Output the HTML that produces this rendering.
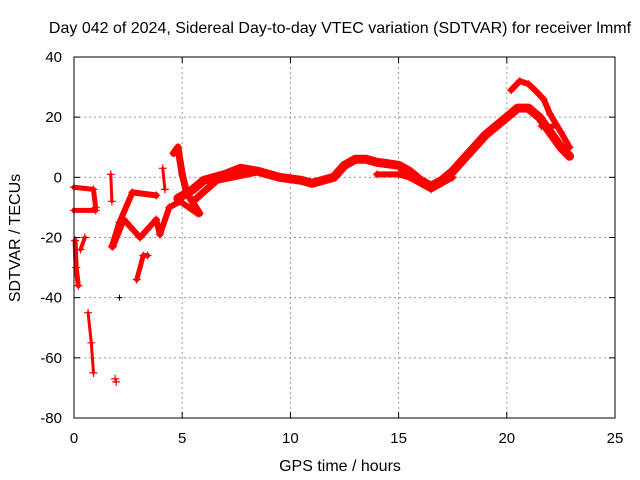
<!DOCTYPE html>
<html><head><meta charset="utf-8"><style>
body{margin:0;background:#fff;}
svg{display:block;font-family:"Liberation Sans",sans-serif;}
</style></head><body>
<svg id="chart" width="640" height="480" viewBox="0 0 640 480" xmlns="http://www.w3.org/2000/svg">
<rect width="640" height="480" fill="#fff"/>
<text x="340" y="33" font-size="16" text-anchor="middle">Day 042 of 2024, Sidereal Day-to-day VTEC variation (SDTVAR) for receiver lmmf</text>
<g id="grid"></g>
<g id="series"></g>
<rect x="74" y="57" width="541" height="361" fill="none" stroke="#000" stroke-width="1"/>
<g id="ticks"></g>
<text x="340" y="471" font-size="16" text-anchor="middle">GPS time / hours</text>
<text x="0" y="0" font-size="16" text-anchor="middle" transform="translate(20,238) rotate(-90)">SDTVAR / TECUs</text>
</svg>
<script>
const xTicks=[0,5,10,15,20,25];
const yTicks=[-80,-60,-40,-20,0,20,40];
// tracks: [hour, value] pairs
const track1=[[4.8,-7],[5.5,-4],[6,-1],[7,1],[7.7,3],[8.5,2],[9.5,0],[10.5,-1],[11,-2],[12,0],[12.5,4],[13,6],[13.5,6],[14,5],[15,4],[15.5,2],[16,-1],[16.5,-3],[17,-1],[17.5,2],[18,6],[18.5,10],[19,14],[19.5,17],[20,20],[20.5,23],[21,23],[21.5,20],[22,15],[22.5,10],[22.9,7]];
const track2=[[14,1],[15,1],[15.5,0],[16.5,-4],[17,-2],[17.5,0]];
const track3=[[20.2,29],[20.6,32],[21,31],[21.3,29],[21.7,26],[22,21],[22.5,15],[22.9,10]];
const track4=[[21.6,17],[22.3,17]];
const track5=[[1.75,-23],[2.1,-15],[2.7,-5],[3.8,-6]];
const track6=[[1.8,-23],[2.3,-14],[3.05,-20],[3.8,-14],[3.97,-19],[4.4,-10],[4.9,-8],[5.7,-12]];
const track7=[[5.5,-8],[6.6,-1],[8.6,2]];
const track8=[[4.6,8],[4.8,10],[5.0,1],[5.2,-5],[5.8,-12]];
const track9=[[2.9,-34],[3.2,-26],[3.4,-26]];
const track10=[[0,-3.3],[0.9,-4],[1.0,-10]];
const track11=[[0,-11],[1,-11]];
const track12=[[0.05,-21],[0.1,-30],[0.2,-36]];
const track13=[[0.3,-24],[0.5,-20]];
const track14=[[0.65,-45],[0.8,-55],[0.9,-65]];
const track15=[[1.9,-67],[1.95,-68]];
const track16=[[1.7,1],[1.75,-8]];
const track17=[[4.1,3],[4.2,-4]];
const blackPts=[[2.1,-40]];
const tracks=[track1,track2,track3,track4,track5,track6,track7,track8,track9,track10,track11,track12,track13,track14,track15,track16,track17];
const widths=[9,6,6,5,6,6,7,7,5,5,5,5,4,3,2,3,3];

const xs=h=>74+541*h/25;
const ys=v=>418-361*(v+80)/120;
const NS="http://www.w3.org/2000/svg";
const grid=document.getElementById('grid'),ticks=document.getElementById('ticks'),ser=document.getElementById('series');
function mk(tag,attrs,parent){const e=document.createElementNS(NS,tag);for(const k in attrs)e.setAttribute(k,attrs[k]);parent.appendChild(e);return e;}
xTicks.forEach(t=>{const x=xs(t);
 if(t>0&&t<25){const g=mk('line',{x1:x,x2:x,y1:57,y2:418,stroke:'#999','stroke-dasharray':'2,3'},grid);}
 const a=mk('line',{x1:x,x2:x,y1:418,y2:412,stroke:'#000'},ticks);
 const b=mk('line',{x1:x,x2:x,y1:57,y2:63,stroke:'#000'},ticks);
 const l=mk('text',{x:x,y:443,'font-size':15,'text-anchor':'middle'},ticks);l.textContent=t;});
yTicks.forEach(t=>{const y=ys(t);
 if(t>-80&&t<40){const g=mk('line',{x1:74,x2:615,y1:y,y2:y,stroke:'#999','stroke-dasharray':'2,3'},grid);}
 const a=mk('line',{x1:74,x2:80,y1:y,y2:y,stroke:'#000'},ticks);
 const b=mk('line',{x1:609,x2:615,y1:y,y2:y,stroke:'#000'},ticks);
 const l=mk('text',{x:62,y:y+5,'font-size':15,'text-anchor':'end'},ticks);l.textContent=t;});
tracks.forEach((tr,i)=>{
 const p=mk('polyline',{points:tr.map(d=>xs(d[0])+','+ys(d[1])).join(' '),fill:'none',stroke:'#f00','stroke-width':widths[i],'stroke-linejoin':'round','stroke-linecap':'round'},ser);
 
 
 tr.forEach(d=>{const x=xs(d[0]),y=ys(d[1]);
  const m=mk('path',{d:`M${x-4},${y}H${x+4}M${x},${y-4}V${y+4}`,stroke:'#f00','stroke-width':1.2},ser);
  
  });
});
blackPts.forEach(d=>{const x=xs(d[0]),y=ys(d[1]);
 const m=mk('path',{d:`M${x-3},${y}H${x+3}M${x},${y-3}V${y+3}`,stroke:'#000','stroke-width':1},ser);
 
 });
</script>
</body></html>
